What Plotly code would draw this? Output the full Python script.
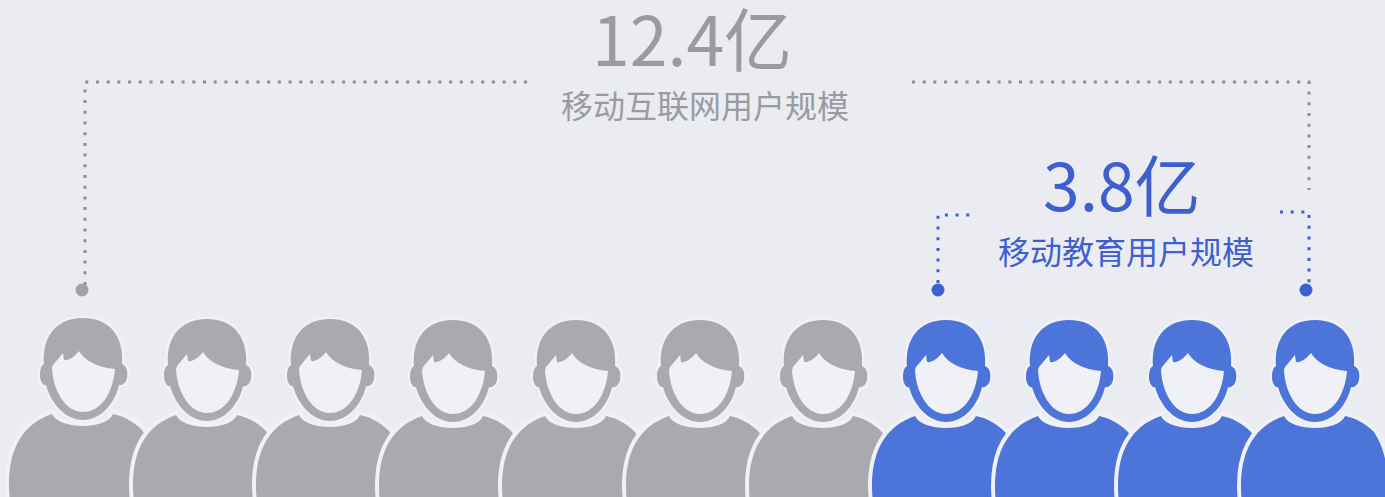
import plotly.graph_objects as go

# --- data ---
total_value = "12.4亿"
total_label = "移动互联网用户规模"
edu_value = "3.8亿"
edu_label = "移动教育用户规模"
icon_centers = [83, 207, 330, 453, 576, 700, 823, 946, 1069, 1192, 1315]
icon_tops = [318, 319, 319, 320, 320, 320, 320, 320, 320, 320, 320]
icon_groups = ["total"] * 7 + ["edu"] * 4
gray_x = [85, 85, 528]
gray_y = [285, 82, 82]
gray2_x = [912, 1309, 1309]
gray2_y = [82, 82, 190]
blue_x = [938, 938, 970]
blue_y = [283, 215, 215]
blue2_x = [1280, 1309, 1309]
blue2_y = [212, 212, 283]
dot_x = [82, 938, 1306]
dot_y = [290, 290, 290]

BG = "#ebecf2"
HALO = "#f0f1f6"
ICON = {"total": "#a9a9ae", "edu": "#4d74d9"}
GRAY_TXT = "#9b9b9f"
BLUE_TXT = "#3f5fcf"
FONT = "Noto Sans CJK SC"


def path(cmds, cx, top):
    out = []
    for c in cmds:
        out.append(c[0])
        pts = c[1:]
        out.append(" ".join(f"{cx + pts[i]},{top + pts[i + 1]}" for i in range(0, len(pts), 2)))
    return " ".join(out) + " Z"


HEAD = [
    ("M", -39, 46), ("C", -41, 20, -28, 0, 0, 0), ("C", 28, 0, 41, 20, 39, 46),
    ("C", 44, 48, 45, 54, 44, 60), ("C", 43, 65, 39, 68, 36, 67),
    ("C", 32, 85, 18, 102, 0, 102), ("C", -18, 102, -32, 85, -37, 67),
    ("C", -40, 68, -43, 63, -43, 57), ("C", -43, 52, -42, 48, -39, 46),
]
FACE = [
    ("M", -30, 47), ("L", -20, 35), ("L", -19, 42), ("C", -14, 43, -8, 38, -4, 33),
    ("C", 1, 42, 15, 50, 32, 51), ("C", 30, 75, 18, 94, 0, 94),
    ("C", -18, 94, -30, 72, -31, 50),
]
BODY = [
    ("M", -74, 166), ("C", -74, 130, -60, 106, -31, 96), ("C", -24, 112, 24, 112, 30, 96),
    ("C", 40, 98, 50, 103, 59, 112), ("C", 68, 125, 73, 145, 73, 166),
    ("L", 73, 200), ("L", -70, 200), ("C", -72, 190, -74, 180, -74, 166),
]

shapes = []
for cx, top, g in zip(icon_centers, icon_tops, icon_groups):
    col = ICON[g]
    shapes.append(dict(type="path", path=path(BODY, cx, top), fillcolor=HALO,
                       line=dict(color=HALO, width=8), xref="x", yref="y", layer="below"))
    shapes.append(dict(type="path", path=path(BODY, cx, top), fillcolor=col,
                       line=dict(width=0), xref="x", yref="y", layer="below"))
    shapes.append(dict(type="path", path=path(HEAD, cx, top), fillcolor=HALO,
                       line=dict(color=HALO, width=5), xref="x", yref="y", layer="below"))
    shapes.append(dict(type="path", path=path(HEAD, cx, top), fillcolor=col,
                       line=dict(width=0), xref="x", yref="y", layer="below"))
    shapes.append(dict(type="path", path=path(FACE, cx, top), fillcolor=HALO,
                       line=dict(width=0), xref="x", yref="y", layer="below"))

fig = go.Figure()
DASH = "3px,7.7px"
for xs, ys, c in [(gray_x, gray_y, "#8e8e92"), (gray2_x, gray2_y, "#8e8e92"),
                  (blue_x, blue_y, "#3f5fcf"), (blue2_x, blue2_y, "#3f5fcf")]:
    fig.add_trace(go.Scatter(x=xs, y=ys, mode="lines",
                             line=dict(color=c, width=3, dash=DASH), hoverinfo="skip"))
fig.add_trace(go.Scatter(x=dot_x, y=dot_y, mode="markers", hoverinfo="skip",
                         marker=dict(size=13, color=["#a3a3a7", BLUE_TXT, BLUE_TXT], line=dict(width=0))))


def label(x, y, t, size, col):
    fig.add_annotation(x=x, y=y, text=t, showarrow=False, xref="x", yref="y",
                       xanchor="center", yanchor="middle",
                       font=dict(family=FONT, size=size, color=col))


label(692, 36, total_value, 68, GRAY_TXT)
label(705, 104, total_label, 32, GRAY_TXT)
label(1122, 182, edu_value, 66, BLUE_TXT)
label(1126, 250, edu_label, 32, BLUE_TXT)

fig.update_layout(
    width=1385, height=497, margin=dict(l=0, r=0, t=0, b=0),
    paper_bgcolor=BG, plot_bgcolor=BG, showlegend=False, shapes=shapes,
    xaxis=dict(range=[0, 1385], visible=False, fixedrange=True),
    yaxis=dict(range=[497, 0], visible=False, fixedrange=True),
)
fig.write_html("out.html", config={"displayModeBar": False},
               post_script="document.body.style.margin='0';document.body.style.overflow='hidden';document.body.style.background='" + BG + "';")
